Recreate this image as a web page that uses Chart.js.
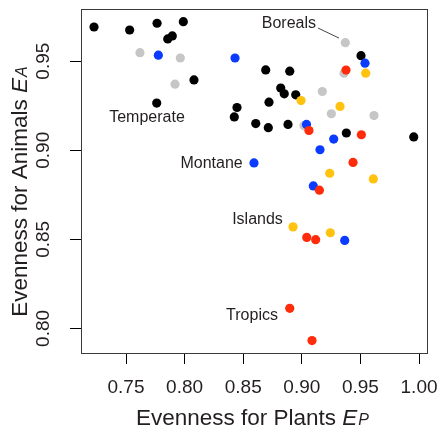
<!DOCTYPE html>
<html>
<head>
<meta charset="utf-8">
<script src="https://cdn.jsdelivr.net/npm/chart.js@4/dist/chart.umd.min.js"></script>
<style>
  html, body { margin: 0; padding: 0; background: #fff; }
  #wrap { width: 440px; height: 432px; }
</style>
</head>
<body>
<div id="wrap"><canvas id="evenChart" width="440" height="432"></canvas></div>
<script>
// DATA
const xTicks = [0.75, 0.80, 0.85, 0.90, 0.95, 1.00];
const yTicks = [0.80, 0.85, 0.90, 0.95];

const temperateX = [0.7227, 0.7531, 0.7765, 0.7989, 0.7856, 0.7895, 0.808, 0.7762, 0.8447, 0.8424,
                    0.8692, 0.8897, 0.882, 0.885, 0.8948, 0.872, 0.9505, 0.8607, 0.8714, 0.8882, 0.938, 0.9955];
const temperateY = [0.9692, 0.9675, 0.9713, 0.9722, 0.9625, 0.9642, 0.9395, 0.9265, 0.924, 0.9187,
                    0.9451, 0.9444, 0.9349, 0.9317, 0.9311, 0.927, 0.9531, 0.915, 0.9127, 0.9145, 0.9097, 0.9075];

const borealX = [0.7619, 0.7963, 0.7918, 0.9371, 0.936, 0.9175, 0.9252, 0.9616, 0.9019];
const borealY = [0.9548, 0.9518, 0.9371, 0.9604, 0.9433, 0.933, 0.9205, 0.9195, 0.9138];

const montaneX = [0.7776, 0.843, 0.9539, 0.904, 0.9272, 0.9155, 0.8592, 0.9098, 0.9366];
const montaneY = [0.9534, 0.9518, 0.9489, 0.9145, 0.9063, 0.9003, 0.8929, 0.88, 0.8494];

const tropicsX = [0.9377, 0.9061, 0.9508, 0.9437, 0.915, 0.9042, 0.9118, 0.8897, 0.9087];
const tropicsY = [0.945, 0.9111, 0.9087, 0.8932, 0.8776, 0.8511, 0.8498, 0.8113, 0.7932];

const islandsX = [0.9545, 0.8993, 0.9326, 0.9238, 0.961, 0.8925, 0.9243];
const islandsY = [0.9433, 0.9279, 0.9246, 0.8871, 0.8839, 0.857, 0.8537];

// group labels placed in data units
const groupNames = ["Temperate", "Montane", "Islands", "Tropics", "Boreals"];
const groupLabelX = [0.7679, 0.823, 0.8622, 0.8575, 0.889];
const groupLabelY = [0.9181, 0.8925, 0.8611, 0.8074, 0.9709];

const FONT = "'Liberation Sans', Arial, sans-serif";
const TEXT = "#231f20";

function pts(xs, ys) {
    return xs.map((x, i) => ({ x: x, y: ys[i] }));
}

function group(label, xs, ys, color, order) {
    return {
        label: label,
        data: pts(xs, ys),
        backgroundColor: color,
        borderWidth: 0,
        pointRadius: 4.6,
        order: order
    };
}

// keep the plot box where the original has it
function noPad(s) {
    s.paddingLeft = 0;
    s.paddingRight = 0;
    s.paddingTop = 0;
    s.paddingBottom = 0;
}

// box, group labels, axis titles
const extras = {
    id: "extras",
    afterDraw(chart) {
        const ctx = chart.ctx;
        const a = chart.chartArea;
        const xs = chart.scales.x, ys = chart.scales.y;
        ctx.save();
        ctx.strokeStyle = "#3a3a3a";
        ctx.lineWidth = 1;
        ctx.strokeRect(Math.round(a.left) + 0.5, Math.round(a.top) + 0.5,
            Math.round(a.right - a.left), Math.round(a.bottom - a.top));

        ctx.fillStyle = TEXT;
        ctx.font = "16px " + FONT;
        ctx.textAlign = "center";
        ctx.textBaseline = "middle";
        groupNames.forEach((n, i) => {
            ctx.fillText(n, xs.getPixelForValue(groupLabelX[i]), ys.getPixelForValue(groupLabelY[i]));
        });
        // Boreals leader line
        ctx.strokeStyle = "#444";
        ctx.beginPath();
        ctx.moveTo(xs.getPixelForValue(0.9138), ys.getPixelForValue(0.9686));
        ctx.lineTo(xs.getPixelForValue(0.9317), ys.getPixelForValue(0.963));
        ctx.stroke();

        // axis titles with italic E and small subscript letter
        function title(main, sub, cx, base, rotate) {
            ctx.save();
            ctx.translate(cx, base);
            if (rotate) ctx.rotate(-Math.PI / 2);
            ctx.textAlign = "left";
            ctx.textBaseline = "alphabetic";
            ctx.font = "22.5px " + FONT;
            const w1 = ctx.measureText(main).width;
            ctx.font = "italic 22.5px " + FONT;
            const w2 = ctx.measureText("E").width;
            ctx.font = "italic 16px " + FONT;
            const w3 = ctx.measureText(sub).width;
            let x0 = -(w1 + w2 + w3) / 2;
            ctx.font = "22.5px " + FONT;
            ctx.fillText(main, x0, 0);
            ctx.font = "italic 22.5px " + FONT;
            ctx.fillText("E", x0 + w1, 0);
            ctx.font = "italic 16px " + FONT;
            ctx.fillText(sub, x0 + w1 + w2 + 1, 0);
            ctx.restore();
        }
        title("Evenness for Plants ", "P", 252, 425, false);
        title("Evenness for Animals ", "A", 27, 192, true);
        ctx.restore();
    }
};

new Chart(document.getElementById("evenChart"), {
    type: "scatter",
    data: {
        datasets: [
            group("Boreals", borealX, borealY, "#c6c6c6", 5),
            group("Temperate", temperateX, temperateY, "#000000", 4),
            group("Montane", montaneX, montaneY, "#0b3bff", 3),
            group("Tropics", tropicsX, tropicsY, "#ff2b0a", 2),
            group("Islands", islandsX, islandsY, "#ffc20e", 1)
        ]
    },
    options: {
        responsive: false,
        animation: false,
        events: [],
        layout: { padding: { top: 9, right: 13, left: 0, bottom: 0 } },
        plugins: { legend: { display: false }, tooltip: { enabled: false } },
        scales: {
            x: {
                type: "linear",
                min: 0.7116,
                max: 1.0068,
                afterBuildTicks: s => { s.ticks = xTicks.map(v => ({ value: v })); },
                afterFit: s => { s.height = 79; noPad(s); },
                grid: { drawOnChartArea: false, color: "#000", tickLength: 11 },
                border: { display: false },
                ticks: {
                    color: TEXT,
                    font: { family: FONT, size: 19 },
                    padding: 12,
                    maxRotation: 0,
                    callback: v => v.toFixed(2)
                }
            },
            y: {
                type: "linear",
                min: 0.7862,
                max: 0.9793,
                afterBuildTicks: s => { s.ticks = yTicks.map(v => ({ value: v })); },
                afterFit: s => { s.width = 81; noPad(s); },
                grid: { drawOnChartArea: false, color: "#000", tickLength: 11 },
                border: { display: false },
                ticks: {
                    color: TEXT,
                    font: { family: FONT, size: 19 },
                    minRotation: 90,
                    maxRotation: 90,
                    crossAlign: "center",
                    padding: 8,
                    callback: v => v.toFixed(2)
                }
            }
        }
    },
    plugins: [extras]
});
</script>
</body>
</html>
